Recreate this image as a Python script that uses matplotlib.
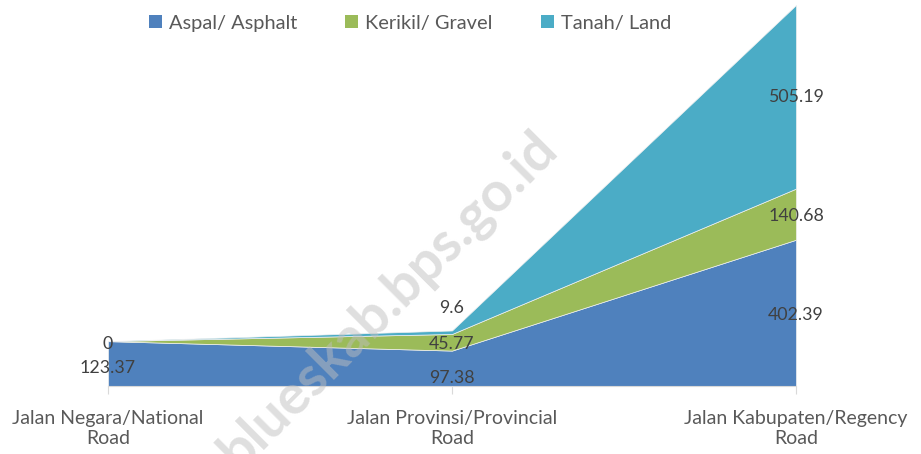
import matplotlib
matplotlib.use("Agg")
import matplotlib.pyplot as plt
import numpy as np
from matplotlib.patches import Patch

categories = ["Jalan Negara/National\nRoad", "Jalan Provinsi/Provincial\nRoad", "Jalan Kabupaten/Regency\nRoad"]
series_names = ["Aspal/ Asphalt", "Kerikil/ Gravel", "Tanah/ Land"]
asphalt = [123.37, 97.38, 402.39]
gravel = [0, 45.77, 140.68]
land = [0, 9.6, 505.19]
label_text = [["123.37", "97.38", "402.39"], ["0", "45.77", "140.68"], ["", "9.6", "505.19"]]

colors = ["#4F81BD", "#9BBB59", "#4BACC6"]
# pixel offsets for data labels (style), downward positive
label_dy = [[4, 10, 2], [3, 2, 2], [0, -24, 0]]

font = "Lato"
plt.rcParams["font.family"] = [font, "DejaVu Sans"]

fig = plt.figure(figsize=(9.21, 4.54), dpi=100)
ax = fig.add_axes([108 / 921, 68 / 454, (796 - 108) / 921, (386 - 5) / 454])

x = np.arange(len(categories))
data = np.array([asphalt, gravel, land])
ax.stackplot(x, data, colors=colors, linewidth=0.5, edgecolor="#f0f0f0")
total = data.sum(axis=0)
ax.set_xlim(0, len(categories) - 1)
ax.set_ylim(0, total.max())

cum = np.cumsum(data, axis=0)
for s in range(data.shape[0]):
    for i in range(data.shape[1]):
        t = label_text[s][i]
        if not t:
            continue
        mid = cum[s, i] - data[s, i] / 2
        ax.annotate(t, (x[i], mid), xytext=(0, -label_dy[s][i] * 0.72), textcoords="offset points",
                    ha="center", va="center", fontsize=12.8, color="#404040", clip_on=False,
                    annotation_clip=False, zorder=5)

for sp in ["top", "right", "left"]:
    ax.spines[sp].set_visible(False)
ax.spines["bottom"].set_color("#d9d9d9")
ax.set_yticks([])
ax.set_xticks(x)
ax.set_xticklabels(categories, fontsize=14, color="#595959", linespacing=1.25)
ax.tick_params(axis="x", length=6, color="#d9d9d9", pad=11)

handles = [Patch(facecolor=c, edgecolor="none") for c in colors]
fig.legend(handles, series_names, loc="center", bbox_to_anchor=(410 / 921, 1 - 23 / 454), ncol=3,
           frameon=False, fontsize=14.4, labelcolor="#595959", handlelength=0.65, handleheight=0.65,
           handletextpad=0.35, columnspacing=2.4)

fig.text(388 / 921, 1 - 300 / 454, "blueskab.bps.go.id", rotation=45, ha="center", va="center",
         fontsize=40, fontweight="bold", color="#bfbfbf", alpha=0.5, zorder=10)

fig.savefig("out.png", dpi=100)
